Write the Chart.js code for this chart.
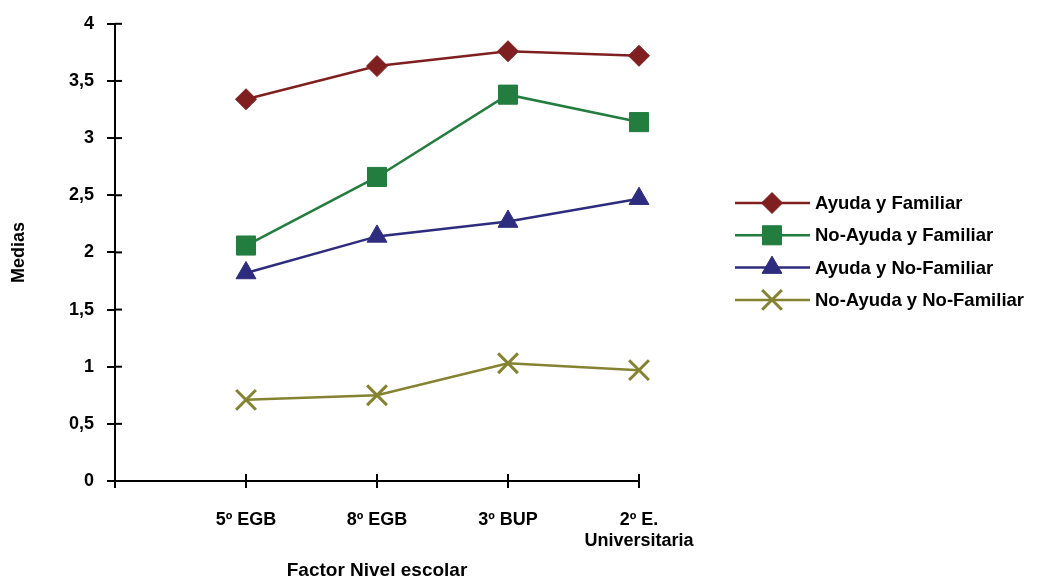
<!DOCTYPE html>
<html>
<head>
<meta charset="utf-8">
<script src="https://cdn.jsdelivr.net/npm/chart.js"></script>
<style>
  html, body { margin: 0; padding: 0; background: #fff; }
  #wrap { width: 1050px; height: 582px; position: relative; }
</style>
</head>
<body>
<div id="wrap"><canvas id="chart"></canvas></div>
<script>
// categories (first slot is empty so the axis starts one step before 5º EGB)
var niveles = ['', '5º EGB', '8º EGB', '3º BUP', ['2º E.', 'Universitaria']];

// series values
var ayudaFamiliar = [3.34, 3.63, 3.76, 3.72];
var noAyudaFamiliar = [2.06, 2.66, 3.38, 3.14];
var ayudaNoFamiliar = [1.82, 2.14, 2.27, 2.47];
var noAyudaNoFamiliar = [0.71, 0.75, 1.03, 0.97];

var seriesNames = ['Ayuda y Familiar', 'No-Ayuda y Familiar', 'Ayuda y No-Familiar', 'No-Ayuda y No-Familiar'];

// y ticks
var yMin = 0, yMax = 4, yStep = 0.5;

var FONT = 'Arial, "Liberation Sans", sans-serif';

function serie(label, values, color, style, radius) {
    return {
        label: label,
        data: [null].concat(values),
        borderColor: color,
        backgroundColor: color,
        borderWidth: 2.5,
        pointStyle: style,
        pointRadius: radius,
        pointHoverRadius: radius,
        pointBorderWidth: style === 'crossRot' ? 3 : 1,
        tension: 0
    };
}

// ticks that cross the axis line (inner half)
var crossTicks = {
    id: 'crossTicks',
    afterDraw: function(chart) {
        var ctx = chart.ctx;
        var area = chart.chartArea;
        ctx.save();
        ctx.strokeStyle = '#000';
        ctx.lineWidth = 2;
        chart.scales.y.ticks.forEach(function(t, i) {
            var y = chart.scales.y.getPixelForTick(i);
            ctx.beginPath();
            ctx.moveTo(area.left, y);
            ctx.lineTo(area.left + 7, y);
            ctx.stroke();
        });
        chart.scales.x.ticks.forEach(function(t, i) {
            var x = chart.scales.x.getPixelForTick(i);
            ctx.beginPath();
            ctx.moveTo(x, area.bottom);
            ctx.lineTo(x, area.bottom - 7);
            ctx.stroke();
        });
        ctx.restore();
    }
};

function marker(ctx, ds, x, y) {
    var opts = {
        pointStyle: ds.pointStyle,
        radius: ds.pointRadius,
        rotation: 0,
        borderWidth: ds.pointBorderWidth
    };
    ctx.fillStyle = ds.backgroundColor;
    ctx.strokeStyle = ds.borderColor;
    ctx.lineWidth = ds.pointBorderWidth;
    Chart.helpers.drawPoint(ctx, opts, x, y);
}

// legend: line with marker in the middle, label on the right
var lineLegend = {
    id: 'lineLegend',
    afterDraw: function(chart) {
        var ctx = chart.ctx;
        ctx.save();
        ctx.font = 'bold 18.5px ' + FONT;
        ctx.textBaseline = 'middle';
        chart.data.datasets.forEach(function(ds, i) {
            var y = 203 + i * 32.3;
            ctx.strokeStyle = ds.borderColor;
            ctx.lineWidth = 2.5;
            ctx.beginPath();
            ctx.moveTo(735, y);
            ctx.lineTo(810, y);
            ctx.stroke();
            marker(ctx, ds, 772, y);
            ctx.fillStyle = '#000';
            ctx.fillText(ds.label, 815, y + 1);
        });
        ctx.restore();
    }
};

new Chart(document.getElementById('chart'), {
    type: 'line',
    data: {
        labels: niveles,
        datasets: [
            serie(seriesNames[0], ayudaFamiliar, '#801f20', 'rectRot', 10.5),
            serie(seriesNames[1], noAyudaFamiliar, '#227d3e', 'rect', 13.5),
            serie(seriesNames[2], ayudaNoFamiliar, '#2e2c7e', 'triangle', 11.5),
            serie(seriesNames[3], noAyudaNoFamiliar, '#858331', 'crossRot', 14)
        ]
    },
    options: {
        responsive: true,
        maintainAspectRatio: false,
        animation: false,
        layout: { padding: { top: 20, right: 411, bottom: 0, left: 0 } },
        plugins: {
            legend: { display: false },
            tooltip: { enabled: false }
        },
        scales: {
            x: {
                offset: false,
                grid: { drawOnChartArea: false, drawTicks: true, tickLength: 7, color: '#000', lineWidth: 2 },
                border: { display: true, color: '#000', width: 2 },
                ticks: {
                    color: '#000',
                    font: { family: FONT, size: 18, weight: 'bold' },
                    padding: 21,
                    maxRotation: 0,
                    autoSkip: false
                },
                title: {
                    display: true,
                    text: 'Factor Nivel escolar',
                    color: '#000',
                    font: { family: FONT, size: 19, weight: 'bold' },
                    padding: { top: 0, bottom: 0 }
                },
                afterFit: function(scale) { scale.height = 101; }
            },
            y: {
                min: yMin,
                max: yMax,
                grid: { drawOnChartArea: false, drawTicks: true, tickLength: 8, color: '#000', lineWidth: 2 },
                border: { display: true, color: '#000', width: 2 },
                ticks: {
                    stepSize: yStep,
                    color: '#000',
                    font: { family: FONT, size: 18, weight: 'bold' },
                    padding: 13,
                    callback: function(v) { return String(v).replace('.', ','); }
                },
                title: {
                    display: true,
                    text: 'Medias',
                    color: '#000',
                    font: { family: FONT, size: 18, weight: 'bold' },
                    padding: { top: 8, bottom: 0 }
                },
                afterFit: function(scale) { scale.width = 115; }
            }
        }
    },
    plugins: [crossTicks, lineLegend]
});
</script>
</body>
</html>
